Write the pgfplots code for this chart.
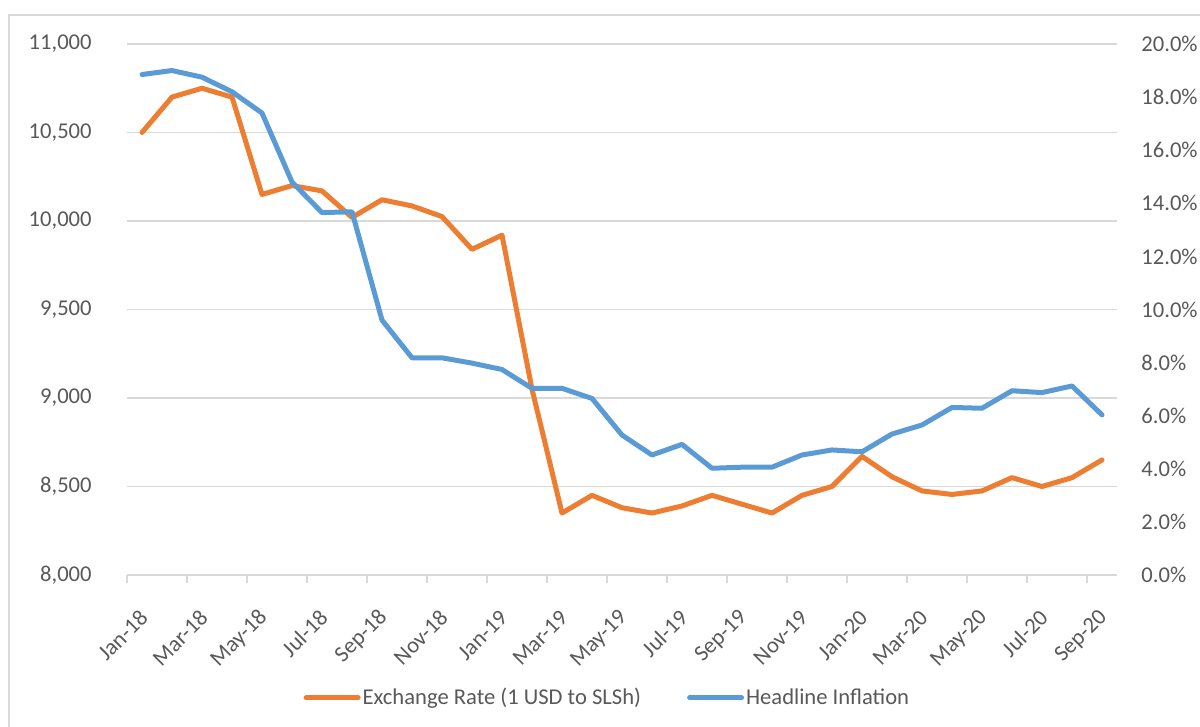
\documentclass[border=0pt]{standalone}
\usepackage{fontspec}
\setmainfont{Carlito}
\usepackage{pgfplots}
\pgfplotsset{compat=1.18}
\definecolor{ero}{HTML}{ED7D31}
\definecolor{inb}{HTML}{5B9BD5}
\definecolor{txt}{HTML}{595959}
\definecolor{grd}{HTML}{D9D9D9}

\pgfplotstableread{
x er
0 10500
1 10700
2 10750
3 10700
4 10150
5 10200
6 10170
7 10020
8 10120
9 10085
10 10025
11 9840
12 9920
13 9050
14 8350
15 8450
16 8380
17 8350
18 8390
19 8450
20 8400
21 8350
22 8450
23 8500
24 8670
25 8555
26 8475
27 8455
28 8475
29 8550
30 8500
31 8550
32 8650
}\ertable

\pgfplotstableread{
x inf
0 18.85
1 19.0
2 18.75
3 18.2
4 17.4
5 14.8
6 13.65
7 13.68
8 9.6
9 8.18
10 8.18
11 7.98
12 7.74
13 7.03
14 7.03
15 6.65
16 5.27
17 4.52
18 4.92
19 4.02
20 4.06
21 4.06
22 4.52
23 4.71
24 4.64
25 5.31
26 5.65
27 6.31
28 6.28
29 6.94
30 6.87
31 7.12
32 6.03
}\inftable

\pgfplotsset{
  common/.style={
    scale only axis, width=495pt, height=265.5pt,
    at={(63.5pt,76pt)}, anchor=south west,
    xmin=-0.5, xmax=32.5,
    tick label style={font=\fontsize{11.3}{13.5}\selectfont, text=txt},
    /pgf/number format/assume math mode=true,
  }
}

\begin{document}
\begin{tikzpicture}[x=1pt,y=1pt]
\useasboundingbox (0,0) rectangle (600,363.5);
\draw[grd, line width=0.8pt] (4.5,-5) -- (4.5,356) -- (605,356);

\begin{axis}[common,
  ymin=8000, ymax=11000,
  ytick={8000,8500,...,11000},
  scaled y ticks=false,
  /pgf/number format/1000 sep={,},
  yticklabel style={inner sep=0pt, xshift=-13.5pt},
  ymajorgrids, grid style={grd, line width=0.8pt},
  axis line style={draw=none},
  ytick style={draw=none},
  xtick={-0.5,1.5,...,31.5},
  xticklabels={Jan-18,Mar-18,May-18,Jul-18,Sep-18,Nov-18,Jan-19,Mar-19,May-19,Jul-19,Sep-19,Nov-19,Jan-20,Mar-20,May-20,Jul-20,Sep-20},
  xtick pos=bottom,
  tick align=outside,
  major tick length=4pt,
  xtick style={grd, line width=0.8pt},
  xticklabel style={inner sep=0pt, xshift=8.5pt, yshift=-15.5pt, rotate=45, anchor=east},
]
\addplot[ero, line width=2.5pt, line join=round, line cap=round] table[x=x, y=er] {\ertable};
\end{axis}

\begin{axis}[common,
  ymin=0, ymax=20,
  ytick={0,2,...,20},
  axis y line*=right,
  axis x line=none,
  y axis line style={draw=none},
  ytick style={draw=none},
  yticklabel={\pgfmathprintnumber[fixed,fixed zerofill,precision=1]{\tick}\%},
  yticklabel style={inner sep=0pt, xshift=12pt, anchor=west},
  legend style={at={(axis description cs:0.178,-0.2316)}, anchor=west, draw=none,
    legend columns=2, font=\fontsize{11.3}{13.5}\selectfont, text=txt,
    inner sep=0pt, nodes={inner sep=1pt},
    /tikz/every even column/.append style={column sep=22pt}},
  legend image code/.code={\draw[#1, line cap=round] (0pt,0pt) -- (26pt,0pt);},
]
\addlegendimage{ero, line width=2.5pt}
\addlegendentry{Exchange Rate (1 USD to SLSh)}
\addplot[inb, line width=2.5pt, line join=round, line cap=round] table[x=x, y=inf] {\inftable};
\addlegendentry{Headline Inflation}
\end{axis}
\end{tikzpicture}
\end{document}
